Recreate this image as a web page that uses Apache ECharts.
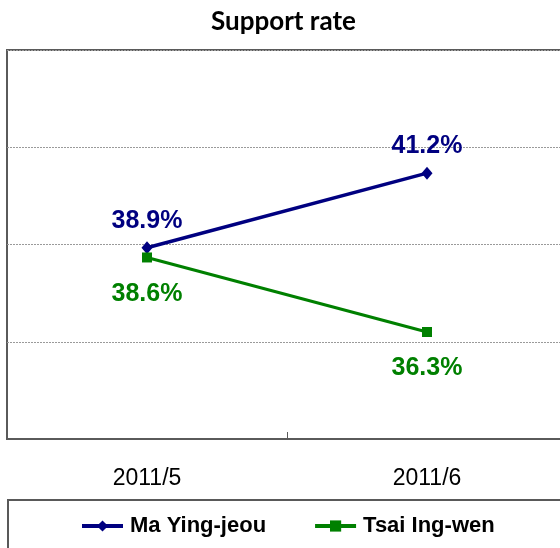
<!DOCTYPE html>
<html>
<head>
<meta charset="utf-8">
<script src="https://cdn.jsdelivr.net/npm/echarts@6/dist/echarts.min.js"></script>
<style>
  html, body { margin: 0; padding: 0; background: #fff; }
  #chart { width: 560px; height: 548px; }
</style>
</head>
<body>
<div id="chart"></div>
<script>
// datos
const meses = ['2011/5', '2011/6']
const maYingJeou = [38.9, 41.2]
const tsaiIngWen = [38.6, 36.3]

const chart = echarts.init(document.getElementById('chart'))

const etiqueta = (color, pos, dist) => ({
  show: true,
  position: pos,
  distance: dist,
  color: color,
  fontFamily: 'Liberation Sans, Arial',
  fontWeight: 'bold',
  fontSize: 25,
  formatter: p => p.value.toFixed(1) + '%'
})

const option = {
  animation: false,
  backgroundColor: '#fff',
  title: {
    text: 'Support rate',
    left: 211,
    top: 9,
    padding: 0,
    textStyle: {
      fontFamily: 'Lato',
      fontWeight: 'bold',
      fontSize: 26,
      color: '#000'
    }
  },
  legend: {
    left: 80,
    top: 515,
    padding: 0,
    itemWidth: 41,
    itemHeight: 14,
    itemGap: 47,
    lineStyle: { width: 4 },
    textStyle: {
      fontFamily: 'Liberation Sans, Arial',
      fontWeight: 'bold',
      fontSize: 22,
      color: '#000',
      padding: [0, 0, 0, 2]
    }
  },
  graphic: [
    {
      type: 'rect',
      z: -1,
      shape: { x: 8, y: 500, width: 570, height: 70 },
      style: { fill: 'none', stroke: '#595959', lineWidth: 2 }
    }
  ],
  grid: {
    left: 7,
    top: 50,
    width: 560,
    height: 389,
    outerBoundsMode: 'none',
    containLabel: false,
    show: true,
    borderColor: '#5a5a5a',
    borderWidth: 2
  },
  xAxis: {
    type: 'category',
    data: meses,
    boundaryGap: true,
    axisLine: { show: true, lineStyle: { color: '#5a5a5a', width: 2 } },
    axisTick: { show: true, inside: true, length: 7, lineStyle: { color: '#5a5a5a' } },
    axisLabel: {
      margin: 28,
      fontFamily: 'Liberation Sans, Arial',
      fontSize: 23,
      color: '#000'
    }
  },
  yAxis: {
    type: 'value',
    min: 33,
    max: 45,
    interval: 3,
    axisLine: { show: false },
    axisTick: { show: false },
    axisLabel: { show: false },
    splitLine: { lineStyle: { color: '#9a9a9a', type: [2, 1], width: 1 } }
  },
  series: [
    {
      name: 'Ma Ying-jeou',
      type: 'line',
      data: maYingJeou,
      symbol: 'diamond',
      symbolSize: [11, 13],
      lineStyle: { color: '#000080', width: 3.5 },
      itemStyle: { color: '#000080' },
      label: etiqueta('#000080', 'top', 8)
    },
    {
      name: 'Tsai Ing-wen',
      type: 'line',
      data: tsaiIngWen,
      symbol: 'rect',
      symbolSize: 10,
      lineStyle: { color: '#008000', width: 3 },
      itemStyle: { color: '#008000' },
      label: etiqueta('#008000', 'bottom', 19)
    }
  ]
}

chart.setOption(option)
</script>
</body>
</html>
